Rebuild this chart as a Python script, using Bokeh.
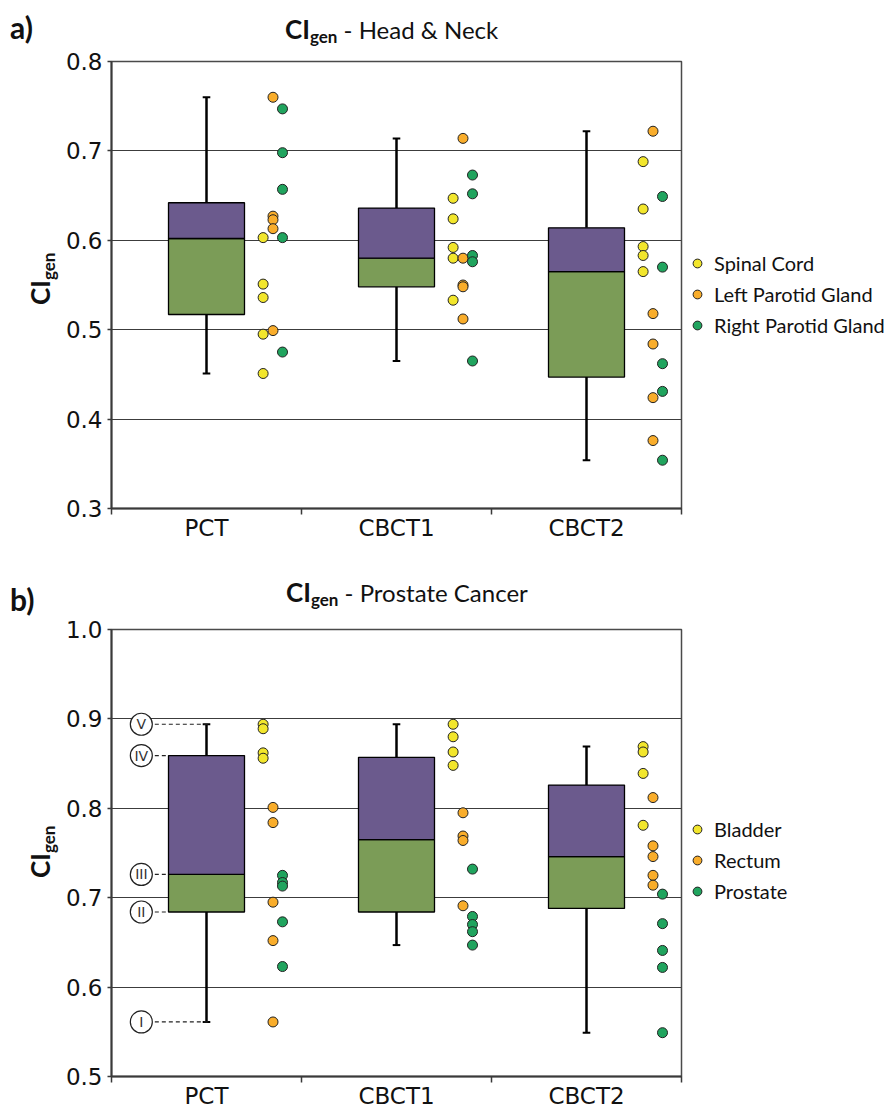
from bokeh.plotting import figure
from bokeh.models import Range1d, FixedTicker, Legend, LegendItem, PrintfTickFormatter, Div
from bokeh.layouts import column, row
from bokeh.embed import file_html
from bokeh.resources import INLINE
from bokeh.core.properties import value

# ---------------- data ----------------
categories = ["PCT", "CBCT1", "CBCT2"]

# a) Head & Neck box statistics (per category)
hn_whisker_low = [0.451, 0.465, 0.354]
hn_q1 = [0.517, 0.548, 0.447]
hn_median = [0.602, 0.580, 0.565]
hn_q3 = [0.642, 0.636, 0.614]
hn_whisker_high = [0.760, 0.714, 0.722]

# a) individual values per category
hn_spinal_cord = [[0.603, 0.551, 0.536, 0.495, 0.451],
                  [0.647, 0.624, 0.592, 0.580, 0.533],
                  [0.688, 0.635, 0.593, 0.583, 0.565]]
hn_left_parotid = [[0.760, 0.627, 0.623, 0.613, 0.499],
                   [0.714, 0.580, 0.550, 0.548, 0.512],
                   [0.722, 0.518, 0.484, 0.424, 0.376]]
hn_right_parotid = [[0.747, 0.698, 0.657, 0.603, 0.475],
                    [0.673, 0.652, 0.583, 0.576, 0.465],
                    [0.649, 0.570, 0.462, 0.431, 0.354]]
hn_labels = ["Spinal Cord", "Left Parotid Gland", "Right Parotid Gland"]

# b) Prostate cancer box statistics
pc_whisker_low = [0.561, 0.647, 0.549]
pc_q1 = [0.684, 0.684, 0.688]
pc_median = [0.726, 0.765, 0.746]
pc_q3 = [0.859, 0.857, 0.826]
pc_whisker_high = [0.894, 0.894, 0.869]

pc_bladder = [[0.894, 0.889, 0.862, 0.856],
              [0.894, 0.880, 0.863, 0.848],
              [0.869, 0.863, 0.839, 0.781]]
pc_rectum = [[0.801, 0.784, 0.695, 0.652, 0.561],
             [0.795, 0.769, 0.764, 0.691],
             [0.812, 0.758, 0.746, 0.725, 0.714]]
pc_prostate = [[0.725, 0.717, 0.713, 0.673, 0.623],
               [0.732, 0.679, 0.670, 0.662, 0.647],
               [0.704, 0.671, 0.641, 0.622, 0.549]]
pc_labels = ["Bladder", "Rectum", "Prostate"]

roman_numerals = ["I", "II", "III", "IV", "V"]

hn_ticks = [0.3, 0.4, 0.5, 0.6, 0.7, 0.8]
pc_ticks = [0.5, 0.6, 0.7, 0.8, 0.9, 1.0]

# ---------------- style ----------------
YELLOW = "#F2E62C"
ORANGE = "#F9AD2B"
GREEN = "#20A45E"
PURPLE = "#6B5A8D"
BOXGREEN = "#7B9C57"
SERIES_COLORS = [YELLOW, ORANGE, GREEN]
DOT_OFFSETS = [0.298, 0.35, 0.40]

TOTAL_W = 886
YLAB_W = 62
BL = 47
FW = 570
FH = 447
FIG_W = TOTAL_W - YLAB_W
TEXT_FONT = "Lato"
TICK_FONT = "DejaVu Sans"


def make_fig(top_b, bottom_b, y0, y1, ticks, standoff):
    p = figure(frame_width=FW, frame_height=FH,
               min_border_left=BL, min_border_right=FIG_W - BL - FW,
               min_border_top=top_b, min_border_bottom=bottom_b,
               x_range=Range1d(0, 3), y_range=Range1d(y0, y1),
               output_backend="svg", toolbar_location=None)
    p.background_fill_color = "white"
    p.border_fill_color = "white"
    p.outline_line_color = "#4a4a4a"
    p.outline_line_width = 1.5
    # x axis: category names at centres, ticks at category boundaries
    centers = [i + 0.5 for i in range(len(categories))]
    p.xaxis.ticker = FixedTicker(ticks=centers, minor_ticks=list(range(len(categories) + 1)))
    p.xaxis.major_label_overrides = {c: name for c, name in zip(centers, categories)}
    p.xaxis.major_tick_line_color = None
    p.xaxis.major_tick_out = 0
    p.xaxis.major_tick_in = 0
    p.xaxis.minor_tick_out = 6
    p.xaxis.minor_tick_in = 0
    p.xaxis.minor_tick_line_color = "#3a3a3a"
    p.xaxis.minor_tick_line_width = 1.5
    p.xaxis.axis_line_color = "#3a3a3a"
    p.xaxis.axis_line_width = 2
    p.xaxis.major_label_text_font = TICK_FONT
    p.xaxis.major_label_text_font_size = "23px"
    p.xaxis.major_label_text_color = "#111111"
    p.xaxis.major_label_standoff = standoff
    p.xgrid.visible = False
    # y axis
    p.yaxis.ticker = FixedTicker(ticks=ticks)
    p.yaxis.formatter = PrintfTickFormatter(format="%.1f")
    p.yaxis.minor_tick_line_color = None
    p.yaxis.major_tick_out = 4
    p.yaxis.major_tick_in = 0
    p.yaxis.major_tick_line_color = "#3a3a3a"
    p.yaxis.major_tick_line_width = 1.5
    p.yaxis.axis_line_color = "#3a3a3a"
    p.yaxis.axis_line_width = 2
    p.yaxis.major_label_text_font = TICK_FONT
    p.yaxis.major_label_text_font_size = "23px"
    p.yaxis.major_label_text_color = "#111111"
    p.yaxis.major_label_standoff = 5
    p.ygrid.ticker = FixedTicker(ticks=ticks)
    p.ygrid.grid_line_color = "#3c3c3c"
    p.ygrid.grid_line_width = 1
    return p


def draw_boxes(p, wl, q1, med, q3, wh):
    cx = [i + 0.5 for i in range(len(categories))]
    p.segment(x0=cx, y0=q3, x1=cx, y1=wh, line_color="black", line_width=2.5)
    p.segment(x0=cx, y0=q1, x1=cx, y1=wl, line_color="black", line_width=2.5)
    p.segment(x0=[c - 0.02 for c in cx], y0=wh, x1=[c + 0.02 for c in cx], y1=wh,
              line_color="black", line_width=2)
    p.segment(x0=[c - 0.02 for c in cx], y0=wl, x1=[c + 0.02 for c in cx], y1=wl,
              line_color="black", line_width=2)
    p.quad(left=[c - 0.2 for c in cx], right=[c + 0.2 for c in cx], bottom=q1, top=med,
           fill_color=BOXGREEN, line_color="black", line_width=1.3)
    p.quad(left=[c - 0.2 for c in cx], right=[c + 0.2 for c in cx], bottom=med, top=q3,
           fill_color=PURPLE, line_color="black", line_width=1.3)


def draw_dots(p, series_list):
    renderers = []
    for s, vals in enumerate(series_list):
        xs, ys = [], []
        for i, cat_vals in enumerate(vals):
            for v in cat_vals:
                xs.append(i + 0.5 + DOT_OFFSETS[s])
                ys.append(v)
        r = p.scatter(x=xs, y=ys, size=10, marker="circle",
                      fill_color=SERIES_COLORS[s], line_color="#222222", line_width=1)
        renderers.append(r)
    return renderers


def add_legend(p, renderers, labels, vx, vy):
    items = [LegendItem(label=l, renderers=[r]) for l, r in zip(labels, renderers)]
    lg = Legend(items=items, location=(vx, vy))
    lg.padding = 0
    lg.margin = 0
    lg.border_line_color = None
    lg.background_fill_alpha = 0
    lg.glyph_width = 22
    lg.glyph_height = 22
    lg.label_height = 22
    lg.spacing = 7
    lg.label_standoff = 6
    lg.label_text_font = TEXT_FONT
    lg.label_text_font_size = "20px"
    lg.label_text_color = "#111111"
    p.add_layout(lg, "right")


def title_div(letter, subtitle, height, letter_top, title_left, title_top):
    html = (
        f'<div style="position:relative;width:{TOTAL_W}px;height:{height}px;'
        f'font-family:Lato;color:#111111;">'
        f'<span style="position:absolute;left:10px;top:{letter_top}px;font-weight:bold;'
        f'font-size:30px;line-height:30px;white-space:nowrap;">{letter}</span>'
        f'<span style="position:absolute;left:{title_left}px;top:{title_top}px;'
        f'line-height:26px;white-space:nowrap;">'
        f'<span style="font-weight:bold;font-size:26px;">CI</span>'
        f'<span style="font-weight:bold;font-size:17px;position:relative;top:4px;">gen</span>'
        f'<span style="font-size:24px;">&nbsp;- {subtitle}</span></span></div>'
    )
    return Div(text=html, width=TOTAL_W, height=height, margin=0)


def ylabel_div(height, left, top):
    html = (
        f'<div style="position:relative;width:{YLAB_W}px;height:{height}px;'
        f'font-family:Lato;color:#111111;">'
        f'<span style="position:absolute;left:{left}px;top:{top}px;line-height:26px;'
        f'white-space:nowrap;transform:rotate(-90deg);transform-origin:0 0;">'
        f'<span style="font-weight:bold;font-size:26px;">CI</span>'
        f'<span style="font-weight:bold;font-size:17px;position:relative;top:5px;">gen</span>'
        f'</span></div>'
    )
    return Div(text=html, width=YLAB_W, height=height, margin=0)


# ---------------- a) Head & Neck ----------------
P1_TOP, P1_BOT = 15, 60
p1 = make_fig(P1_TOP, P1_BOT, 0.3, 0.8, hn_ticks, 0)
draw_boxes(p1, hn_whisker_low, hn_q1, hn_median, hn_q3, hn_whisker_high)
r1 = draw_dots(p1, [hn_spinal_cord, hn_left_parotid, hn_right_parotid])
add_legend(p1, r1, hn_labels, 5, 171)

# ---------------- b) Prostate ----------------
P2_TOP, P2_BOT = 15, 36
p2 = make_fig(P2_TOP, P2_BOT, 0.5, 1.0, pc_ticks, 0)
draw_boxes(p2, pc_whisker_low, pc_q1, pc_median, pc_q3, pc_whisker_high)

# roman numeral markers for the PCT box statistics
stat_vals = [pc_whisker_low[0], pc_q1[0], pc_median[0], pc_q3[0], pc_whisker_high[0]]
circ_x = 0.157
dash_end = [0.51, 0.3, 0.3, 0.3, 0.51]
p2.segment(x0=[0.228] * 5, y0=stat_vals, x1=dash_end, y1=stat_vals,
           line_color="#222222", line_width=1.2, line_dash="4 3")
p2.scatter(x=[circ_x] * 5, y=stat_vals, size=22, marker="circle",
           fill_color="white", line_color="#222222", line_width=1.2)
p2.text(x=[circ_x] * 5, y=stat_vals, text=roman_numerals, text_align="center",
        text_baseline="middle", text_font=value("DejaVu Sans"), text_font_size="14px",
        text_color="#333333")

r2 = draw_dots(p2, [pc_bladder, pc_rectum, pc_prostate])
add_legend(p2, r2, pc_labels, 5, 173)

H1 = P1_TOP + FH + P1_BOT
H2 = P2_TOP + FH + P2_BOT

div_a = title_div("a)", "Head &amp; Neck", 46, 12, 285, 16)
div_b = title_div("b)", "Prostate Cancer", 46, 16, 286, 11)
yl_a = ylabel_div(H1, 27, 259)
yl_b = ylabel_div(H2, 27, 264)

layout = column(div_a, row(yl_a, p1, spacing=0), div_b, row(yl_b, p2, spacing=0), spacing=0)
open("out.html", "w").write(file_html(layout, INLINE))
